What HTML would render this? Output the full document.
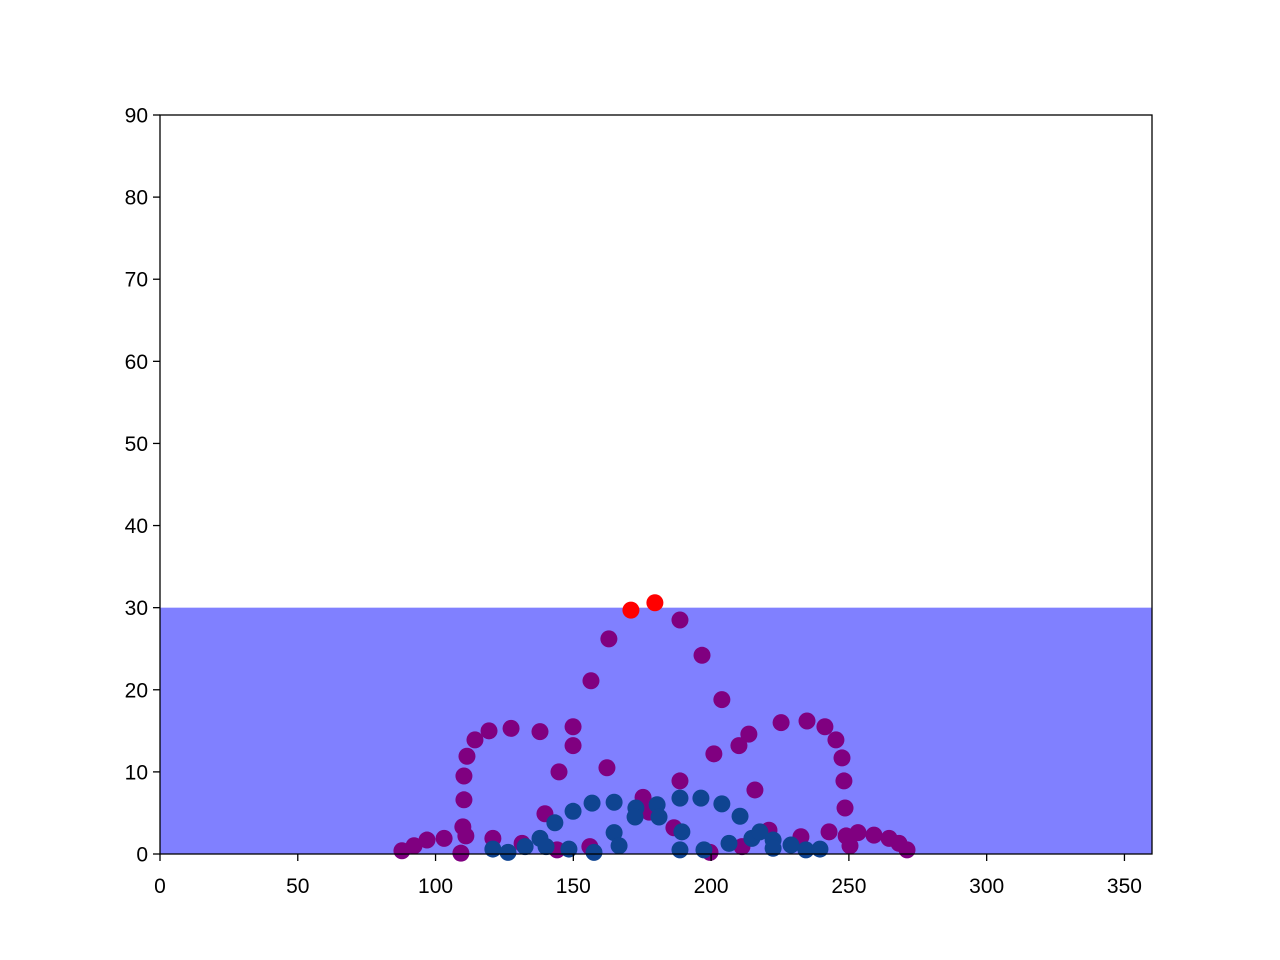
<!DOCTYPE html>
<html><head><meta charset="utf-8"><style>
body{margin:0;background:#fff;}
svg{display:block;font-family:"Liberation Sans","DejaVu Sans",sans-serif;}
</style></head><body>
<svg id="chart" width="1280" height="960" xmlns="http://www.w3.org/2000/svg">
<rect width="1280" height="960" fill="#fff"/>
<g id="plot"></g>
</svg>
<script>
const xTicks=[0,50,100,150,200,250,300,350];
const yTicks=[0,10,20,30,40,50,60,70,80,90];
const bandTop=[30];
const purpleX=[87.8,92.2,96.9,103.1,109.9,110.3,110.3,111.4,114.3,119.4,127.4,137.9,139.7,144.8,149.9,149.9,156.4,162.9,188.7,196.7,203.9,201.0,210.1,213.7,225.4,234.8,241.3,245.3,247.5,248.2,248.6,249.0,250.4,253.3,259.1,264.6,268.2,271.1,242.8,232.6,221.0,215.9,188.7,186.5,175.3,177.5,162.2,131.4,120.8,111.0,109.2,156.0,144.1,199.6,211.2];
const purpleY=[0.4,1.0,1.7,1.9,3.3,6.6,9.5,11.9,13.9,15.0,15.3,14.9,4.9,10.0,13.2,15.5,21.1,26.2,28.5,24.2,18.8,12.2,13.2,14.6,16.0,16.2,15.5,13.9,11.7,8.9,5.6,2.2,1.0,2.6,2.3,1.9,1.3,0.5,2.7,2.1,2.9,7.8,8.9,3.2,6.9,5.1,10.5,1.3,1.9,2.2,0.1,0.9,0.5,0.2,0.9];
const blueX=[120.8,126.3,132.5,137.9,143.3,149.9,156.8,164.8,172.7,180.4,188.7,196.3,203.9,210.5,214.8,217.7,222.5,229.0,234.4,239.5,222.5,206.5,197.4,188.7,189.4,181.1,172.4,164.8,166.6,157.5,148.4,140.1];
const blueY=[0.6,0.2,0.9,1.9,3.8,5.2,6.2,6.3,5.6,6.0,6.8,6.8,6.1,4.6,1.9,2.7,1.7,1.1,0.5,0.6,0.7,1.3,0.5,0.5,2.7,4.5,4.5,2.6,1.0,0.2,0.6,0.9];
const redX=[170.9,179.6];
const redY=[29.7,30.6];

const L=160,R=1152,T=115,B=854;
const sx=v=>L+(v-0)/360*(R-L);
const sy=v=>B-(v-0)/90*(B-T);
const NS='http://www.w3.org/2000/svg';
const g=document.getElementById('plot');
function mk(t,a){const e=document.createElementNS(NS,t);for(const k in a)e.setAttribute(k,a[k]);g.appendChild(e);return e;}

const band=mk('rect',{x:L,y:sy(bandTop[0]),width:R-L,height:B-sy(bandTop[0]),fill:'#8080ff'});



function dots(xs,ys,col,name){
  for(let i=0;i<xs.length;i++){
    const c=mk('circle',{cx:sx(xs[i]),cy:sy(ys[i]),r:8.5,fill:col});
    
    
  }
}
dots(purpleX,purpleY,'#800080','purple-point');
dots(blueX,blueY,'#0f4491','blue-point');
dots(redX,redY,'#ff0000','red-point');

const frame=mk('rect',{x:L,y:T,width:R-L,height:B-T,fill:'none',stroke:'#000','stroke-width':1.3});



xTicks.forEach(v=>{
  const l=mk('line',{x1:sx(v),x2:sx(v),y1:B,y2:B+7,stroke:'#000','stroke-width':1.3});
  
  
  const t=mk('text',{x:sx(v),y:B+39,'text-anchor':'middle','font-size':21,fill:'#000'});
  t.textContent=v;
  
  
});
yTicks.forEach(v=>{
  const l=mk('line',{x1:L-7,x2:L,y1:sy(v),y2:sy(v),stroke:'#000','stroke-width':1.3});
  
  
  const t=mk('text',{x:L-12,y:sy(v)+7.5,'text-anchor':'end','font-size':21,fill:'#000'});
  t.textContent=v;
  
  
});
</script>
</body></html>
